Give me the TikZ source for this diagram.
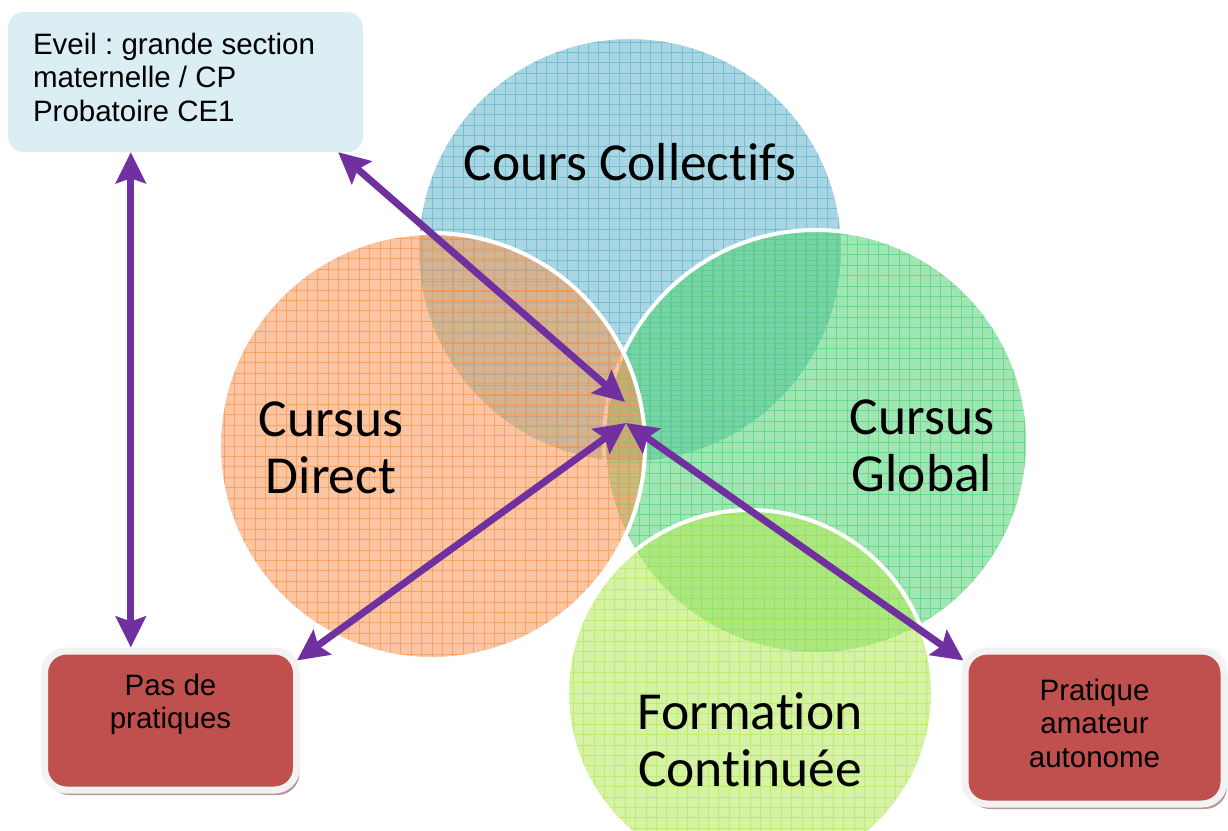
\documentclass[tikz,border=0pt]{standalone}
\usepackage{fontspec}
\setmainfont{Liberation Sans}
\newfontfamily\calfont[Ligatures=NoCommon]{Carlito}
\usetikzlibrary{arrows.meta,positioning,shadows}
\frenchspacing

\definecolor{ccblue}{RGB}{97,180,204}
\definecolor{cgreen}{RGB}{82,210,119}
\definecolor{cdorange}{RGB}{246,150,82}
\definecolor{fclime}{RGB}{180,233,91}
\definecolor{linkpurple}{RGB}{112,48,160}
\definecolor{boxred}{RGB}{192,80,77}
\definecolor{eveilblue}{RGB}{218,238,243}
\definecolor{framegray}{RGB}{242,242,242}

\begin{document}
\begin{tikzpicture}[x=1pt,y=-1pt,
  zone/.style={circle,draw=white,line width=4pt,fill=#1,fill opacity=.55,inner sep=0pt,
    path picture={\draw[#1,draw opacity=.7,line width=1pt,step=10.4pt]
      (path picture bounding box.south west) grid (path picture bounding box.north east);}},
  zonetxt/.style={font=\calfont\fontsize{53.5}{57}\selectfont,align=center,inner sep=0pt},
  boxtxt/.style={font=\fontsize{29.5}{33.5}\selectfont,align=center,inner sep=0pt},
  redbox/.style={rounded corners=22pt,fill=boxred,draw=framegray,line width=7pt,
    drop shadow={shadow xshift=3pt,shadow yshift=-5pt,fill=boxred!60!black,opacity=.5}},
  link/.style={linkpurple,line width=7pt,
    arrows={Stealth[length=31pt,width=30pt,inset=5pt]-Stealth[length=31pt,width=30pt,inset=5pt]}}]
\useasboundingbox (0,0) rectangle (1228,830);

% the four circles
\node[zone=ccblue,minimum size=426pt] (cc) at (630,250) {};
\node[zone=cgreen,minimum size=424pt] (cg) at (816,442) {};
\node[zone=cdorange,minimum size=426pt] (cd) at (432,446) {};
\node[zone=fclime,minimum size=366pt] (fc) at (750,693) {};

\node[zonetxt] (cctxt) at (630,162) {Cours Collectifs};
\node[zonetxt] (cdtxt) at (331,448) {Cursus\\Direct};
\node[zonetxt] (cgtxt) at (922,446) {Cursus\\Global};
\node[zonetxt] (fctxt) at (750,740) {Formation\\Continuée};

% boxes
\node[rounded corners=16pt,fill=eveilblue,minimum width=355pt,minimum height=140pt] (eveil) at (185.5,82) {};
\node[boxtxt,align=left,anchor=north west] (eveiltxt) at ([shift={(25,21)}]eveil.north west)
  {Eveil : grande section\\maternelle / CP\\Probatoire CE1};

\node[redbox,minimum width=252pt,minimum height=139pt] (pas) at (170.5,720.5) {};
\node[boxtxt,below=26pt of pas.north] (pastxt) {Pas de\\pratiques};
\node[redbox,minimum width=259pt,minimum height=153pt] (prat) at (1094.5,727.5) {};
\node[boxtxt,below=31pt of prat.north] (prattxt) {Pratique\\amateur\\autonome};

% arrows
\coordinate (hubtop) at (625,402);
\coordinate (hubbot) at (626,423);
\draw[link] ([xshift=123pt]eveil.south west) -- ([xshift=123pt]eveil.south west |- pas.north);
\draw[link] ([xshift=-25pt]eveil.south east) -- (hubtop);
\draw[link] ([shift={(-3,13)}]pas.north east) -- (hubbot);
\draw[link] ([shift={(2,13)}]prat.north west) -- (hubbot);
\end{tikzpicture}
\end{document}
